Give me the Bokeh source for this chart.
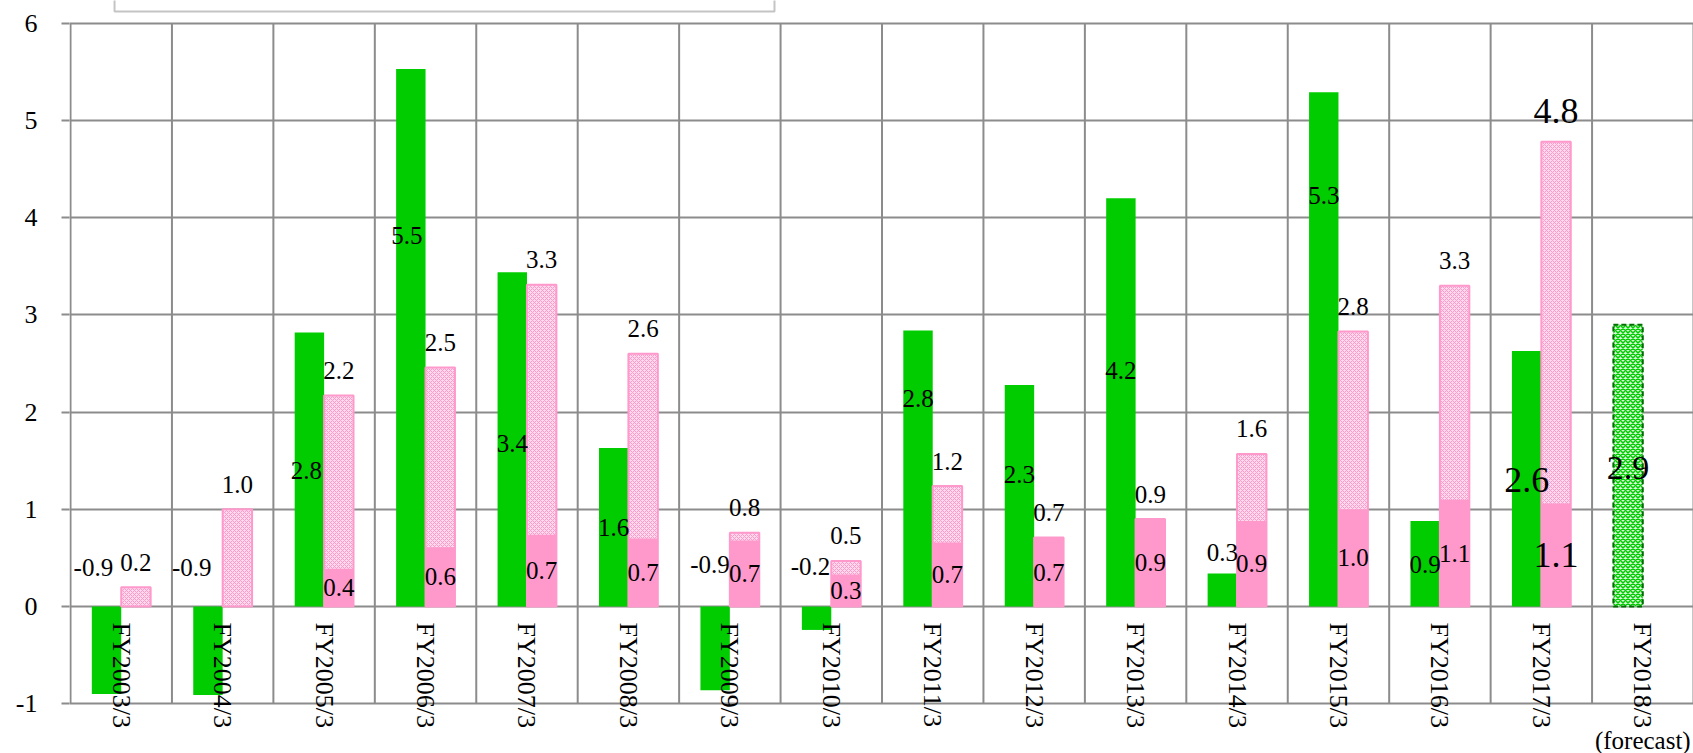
import math

from bokeh.core.properties import value
from bokeh.embed import file_html
from bokeh.models import ColumnDataSource, FixedTicker, PrintfTickFormatter, Range1d
from bokeh.plotting import figure
from bokeh.resources import INLINE

nan = float("nan")

# ---- data -------------------------------------------------------------
categories = [
    "FY2003/3", "FY2004/3", "FY2005/3", "FY2006/3", "FY2007/3", "FY2008/3",
    "FY2009/3", "FY2010/3", "FY2011/3", "FY2012/3", "FY2013/3", "FY2014/3",
    "FY2015/3", "FY2016/3", "FY2017/3", "FY2018/3",
]
forecast_note = "(forecast)"

# green series: results, plus the forecast for the last year
green_actual = [-0.90, -0.91, 2.82, 5.53, 3.44, 1.63, -0.86, -0.24,
                2.84, 2.28, 4.20, 0.34, 5.29, 0.88, 2.63, nan]
green_forecast = [nan] * 15 + [2.90]

# pink series: total (hatched) and its solid part
pink_total = [0.20, 1.00, 2.17, 2.46, 3.31, 2.60, 0.76, 0.47,
              1.24, 0.71, 0.90, 1.57, 2.83, 3.30, 4.78, nan]
pink_part = [nan, nan, 0.39, 0.61, 0.74, 0.70, 0.68, 0.33,
             0.66, 0.71, 0.90, 0.88, 1.00, 1.10, 1.06, nan]

y_ticks = [-1, 0, 1, 2, 3, 4, 5, 6]

# ---- layout -----------------------------------------------------------
W, H = 1693, 753
LEFT = 69
X0, X1 = -0.01, len(categories)
Y0, Y1 = -1.511, 6.234
PX_PER_Y = H / (Y1 - Y0)
BAR_W = 0.29

# heights at which the green value labels sit
green_label_y = [0.40, 0.40, 1.40, 3.82, 1.68, 0.81, 0.43, 0.41,
                 2.14, 1.36, 2.43, 0.56, 4.23, 0.43, 1.30, 1.43]
green_label_dx = [-0.13, -0.16, -0.03, -0.04, 0, 0, -0.05, -0.06,
                  0, 0, 0, 0, 0, 0, 0, 0]
normal_px = 25
big_px = {14: 36}  # FY2017/3 labels are set larger
forecast_px = 34

GRID = "#8c8c8c"
GREEN = "#00cc00"
PINK = "#ff99cc"
FONT = "Liberation Serif"

p = figure(
    width=W, height=H,
    x_range=Range1d(X0, X1), y_range=Range1d(Y0, Y1),
    x_axis_type=None,
    output_backend="svg", toolbar_location=None,
    min_border_left=LEFT, min_border_right=0,
    min_border_top=0, min_border_bottom=0,
)
p.outline_line_color = None
p.background_fill_color = "white"
p.border_fill_color = "white"

# y axis: labels only, with outward ticks that continue the grid lines
p.yaxis.ticker = FixedTicker(ticks=y_ticks)
p.yaxis.formatter = PrintfTickFormatter(format="%d")
p.yaxis.axis_line_color = None
p.yaxis.major_tick_in = 0
p.yaxis.major_tick_out = 8
p.yaxis.major_tick_line_color = GRID
p.yaxis.major_tick_line_width = 2
p.yaxis.minor_tick_line_color = None
p.yaxis.major_label_standoff = 24
p.yaxis.major_label_text_font = FONT
p.yaxis.major_label_text_font_size = "26px"
p.yaxis.major_label_text_font_style = "normal"
p.yaxis.major_label_text_color = "black"

p.ygrid.ticker = FixedTicker(ticks=y_ticks)
p.ygrid.grid_line_color = GRID
p.ygrid.grid_line_width = 2

# vertical separators between the years
edges = list(range(len(categories) + 1))
p.segment(x0=edges, x1=edges, y0=[y_ticks[0]] * len(edges),
          y1=[y_ticks[-1]] * len(edges), line_color=GRID, line_width=2)

# frame of the key, running off the top edge
p.quad(left=[0.434], right=[6.94], bottom=[6.12], top=[6.6],
       fill_color="white", line_color="#c4c4c4", line_width=2)

centers = [i + 0.5 for i in range(len(categories))]
gx = [c - BAR_W / 2 for c in centers]
px = [c + BAR_W / 2 for c in centers]

# bars
p.vbar(x=gx, width=BAR_W, top=green_actual, bottom=0,
       fill_color=GREEN, line_color=None)
p.vbar(x=gx, width=BAR_W, top=green_forecast, bottom=0,
       fill_color="#d9f7d9", hatch_pattern="diagonal_cross", hatch_color=GREEN,
       hatch_scale=5, hatch_weight=1.5,
       line_color="#006e00", line_width=2, line_dash="5 3")
p.vbar(x=px, width=BAR_W, top=pink_total, bottom=0,
       fill_color="#ffd9ec", hatch_pattern="diagonal_cross", hatch_color=PINK,
       hatch_scale=4, hatch_weight=1,
       line_color=PINK, line_width=2)
p.vbar(x=px, width=BAR_W, top=pink_part, bottom=0,
       fill_color=PINK, line_color=None)

# value labels
lx, ly, lt, ls = [], [], [], []
for i in range(len(categories)):
    size = big_px.get(i, normal_px)
    v = green_actual[i]
    if not math.isnan(v):
        lx.append(gx[i] + green_label_dx[i]); ly.append(green_label_y[i])
        lt.append(f"{v:.1f}"); ls.append(f"{size}px")
    v = green_forecast[i]
    if not math.isnan(v):
        lx.append(gx[i]); ly.append(green_label_y[i])
        lt.append(f"{v:.1f}"); ls.append(f"{forecast_px}px")
    v = pink_total[i]
    if not math.isnan(v):
        lx.append(px[i]); ly.append(v + (12.5 + size / 2) / PX_PER_Y)
        lt.append(f"{v:.1f}"); ls.append(f"{size}px")
    v = pink_part[i]
    if not math.isnan(v):
        lx.append(px[i]); ly.append(v / 2)
        lt.append(f"{v:.1f}"); ls.append(f"{size}px")

labels = ColumnDataSource(dict(x=lx, y=ly, text=lt, size=ls))
p.text(x="x", y="y", text="text", source=labels, text_font=value(FONT),
       text_font_size="size", text_color="black",
       text_align="center", text_baseline="middle")

# year names, written downwards from just under the zero line
p.text(x=centers, y=[-16 / PX_PER_Y] * len(centers), text=categories,
       angle=-math.pi / 2, text_font=value(FONT), text_font_size="26px",
       text_color="black", text_align="left", text_baseline="middle")
p.text(x=[centers[-1]], y=[y_ticks[0] - 37 / PX_PER_Y], text=[forecast_note],
       text_font=value(FONT), text_font_size="25px", text_color="black",
       text_align="center", text_baseline="middle")

open("out.html", "w").write(file_html(p, INLINE))
